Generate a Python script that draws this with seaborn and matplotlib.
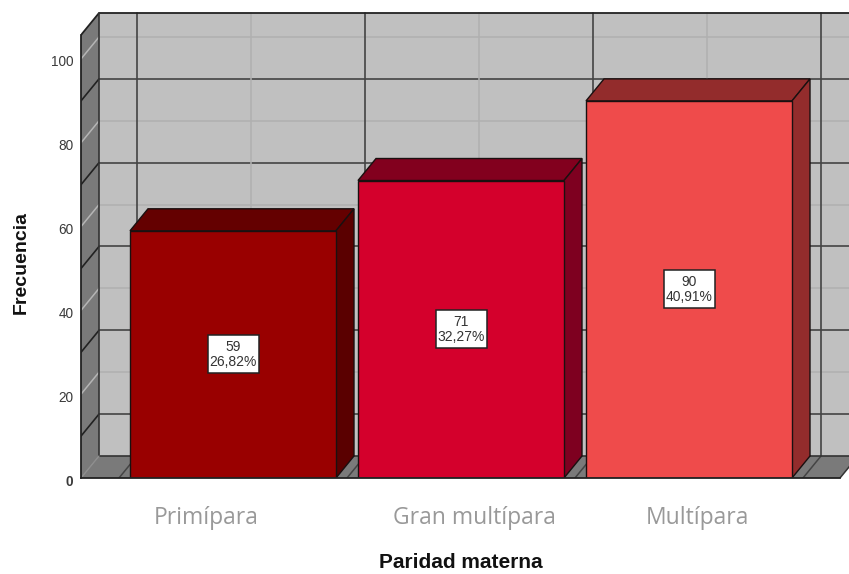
import matplotlib
matplotlib.use("Agg")
import matplotlib.pyplot as plt
from matplotlib.patches import Rectangle
from matplotlib.transforms import ScaledTranslation
import numpy as np
import seaborn as sns

categories = ["Primípara", "Gran multípara", "Multípara"]
counts = [59, 71, 90]
percents = ["26,82%", "32,27%", "40,91%"]
front_colors = ["#990000", "#D4002C", "#EF4B4B"]
top_colors = ["#640000", "#82001E", "#932C2C"]
side_colors = ["#5A0000", "#7E0020", "#932C2C"]
y_ticks = [0, 20, 40, 60, 80, 100]
label_positions = [-0.117, 1.06, 2.035]

sns.set_theme(style="white")
plt.rcParams["font.family"] = ["Liberation Sans", "DejaVu Sans"]

W, H = 849, 574
fig = plt.figure(figsize=(W / 100, H / 100), dpi=100)
ax = fig.add_axes([81 / W, 1 - 478 / H, (W - 81) / W, (478 - 11) / H])

UNIT_X = 228.0          # pixels per category
UNIT_Y = 4.19           # pixels per count
DX = 18 / UNIT_X        # depth offset in data units
DY = 22 / UNIT_Y
X0 = (81 - 233) / UNIT_X
X1 = (840 - 233) / UNIT_X
Y_TOP = (478 - 35) / UNIT_Y
DARK = "#444444"
EDGE = "#1A1010"

sns.barplot(x=categories, y=counts, hue=categories, palette=front_colors,
            saturation=1, width=206 / UNIT_X, dodge=False, legend=False, ax=ax,
            edgecolor=EDGE, linewidth=1.0, zorder=5)
ax.set_xlim(X0, (W - 233) / UNIT_X)
ax.set_ylim(0, (478 - 11) / UNIT_Y)

# Walls and floor of the box behind the bars
ax.fill([X0 + DX, X1 + 2 * DX, X1 + 2 * DX, X0 + DX],
        [DY, DY, Y_TOP + DY, Y_TOP + DY], color="#C0C0C0", lw=0, zorder=1)
ax.fill([X0, X0 + DX, X0 + DX, X0], [0, DY, Y_TOP + DY, Y_TOP],
        color="#7A7A7A", lw=0, zorder=1)
ax.fill([X0, X0 + DX, X1 + DX, X1], [0, DY, DY, 0],
        color="#7A7A7A", lw=0, zorder=1)

# Horizontal grid: labelled levels are pale, the levels between them dark
for level in np.arange(10, 101, 10):
    labelled = level in y_ticks
    back_c = "#B0B0B0" if labelled else DARK
    side_c = "#B5B5B5" if labelled else "#222222"
    lw = 1.1 if labelled else 1.2
    ax.plot([X0 + DX, X1 + 2 * DX], [level + DY] * 2, color=back_c, lw=lw, zorder=2)
    ax.plot([X0, X0 + DX], [level, level + DY], color=side_c, lw=lw, zorder=2)

# Vertical grid on the back wall and its continuation across the floor
for i in range(3):
    ax.plot([i + DX] * 2, [DY, Y_TOP + DY], color="#B0B0B0", lw=1.1, zorder=2)
for b in [-0.5, 0.5, 1.5, 2.5]:
    ax.plot([b + DX] * 2, [DY, Y_TOP + DY], color=DARK, lw=1.2, zorder=2)
    ax.plot([b, b + DX], [0, DY], color=DARK, lw=1.1, zorder=2)

# Box outline
ax.plot([X0, X0 + DX, X1 + 2 * DX], [Y_TOP, Y_TOP + DY, Y_TOP + DY], color="#222222", lw=1.3, zorder=3)
ax.plot([X0 + DX, X0 + DX, X1 + 2 * DX], [Y_TOP + DY, DY, DY], color="#333333", lw=1.2, zorder=3)
ax.plot([X0, X0 + DX], [0, DY], color="#8E8E8E", lw=1.0, zorder=3)
ax.plot([X1, X1 + DX], [0, DY], color="#333333", lw=1.1, zorder=3)

# Depth faces of each bar, then the value box on its front
box_w, box_h = 51 / UNIT_X, 38 / UNIT_Y
for patch, n, pct, top_c, side_c in zip(ax.patches, counts, percents, top_colors, side_colors):
    left, right = patch.get_x(), patch.get_x() + patch.get_width()
    cx = (left + right) / 2
    ax.fill([left, left + DX, right + DX, right], [n, n + DY, n + DY, n],
            facecolor=top_c, edgecolor=EDGE, lw=1.0, zorder=4)
    ax.fill([right, right + DX, right + DX, right], [0, DY, n + DY, n],
            facecolor=side_c, edgecolor=EDGE, lw=1.0, zorder=4)
    ax.add_patch(Rectangle((cx - box_w / 2, n / 2 - box_h / 2), box_w, box_h,
                           fc="white", ec="#222222", lw=1.1, zorder=6))
    ax.text(cx, n / 2, f"{n}\n{pct}", ha="center", va="center",
            fontsize=10, color="#333333", linespacing=1.08, zorder=7)

sns.despine(ax=ax, top=True, right=True)
ax.spines["left"].set_bounds(0, Y_TOP)
ax.spines["bottom"].set_bounds(X0, X1)
for s in ("left", "bottom"):
    ax.spines[s].set_color("#222222")
    ax.spines[s].set_linewidth(1.3)
    ax.spines[s].set_zorder(7)

ax.set_yticks(y_ticks)
ax.tick_params(axis="y", length=0, pad=5.5, labelsize=9.8, labelcolor="#3A3A3A")
shift = ScaledTranslation(0, -2 / 100, fig.dpi_scale_trans)
for tick_label in ax.get_yticklabels():
    tick_label.set_transform(tick_label.get_transform() + shift)
ax.get_yticklabels()[0].set_fontweight("bold")

ax.set_xticks(label_positions)
ax.set_xticklabels(categories, fontfamily="Open Sans", fontsize=16.5, color="#999999")
ax.tick_params(axis="x", length=0, pad=20)

ax.set_xlabel("Paridad materna", fontsize=15, fontweight="bold", color="#111111", va="center")
ax.set_ylabel("Frecuencia", fontsize=14, fontweight="bold", color="#111111", va="center")
ax.xaxis.set_label_coords((461 - 81) / (W - 81), -(563 - 478) / (478 - 11))
ax.yaxis.set_label_coords((21 - 81) / (W - 81), (478 - 263) / (478 - 11))

fig.savefig("out.png", dpi=100)
